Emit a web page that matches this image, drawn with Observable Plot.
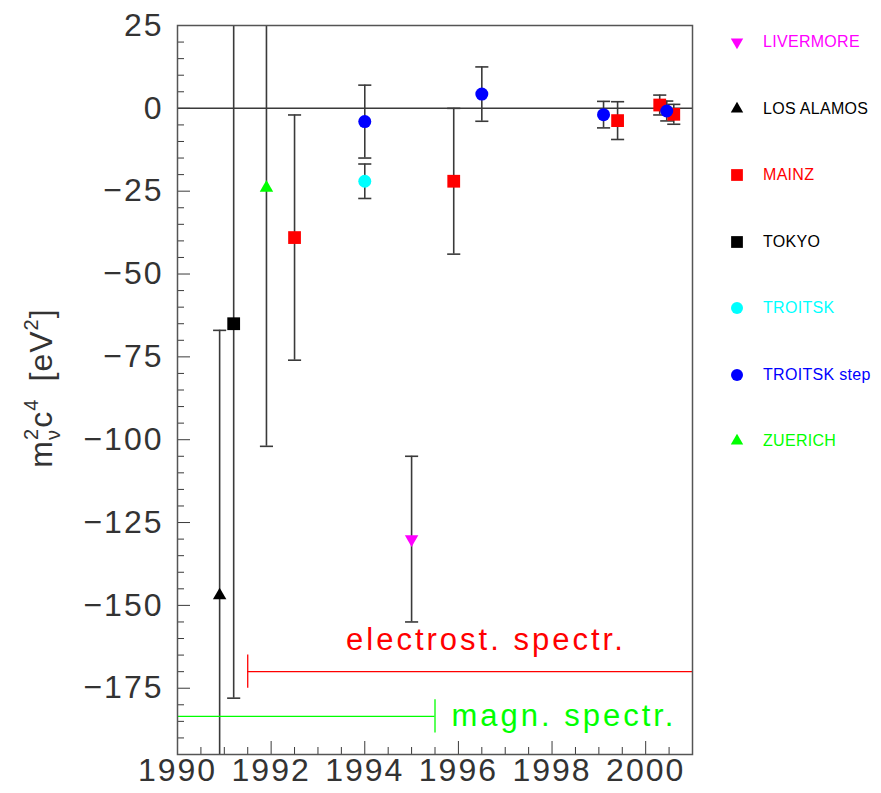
<!DOCTYPE html>
<html><head><meta charset="utf-8">
<script src="https://cdn.jsdelivr.net/npm/d3@7"></script>
<script src="https://cdn.jsdelivr.net/npm/@observablehq/plot@0.6"></script>
<style>
body{margin:0;background:#fff;overflow:hidden;}
#wrap{position:relative;width:881px;height:793px;overflow:hidden;}
.item{position:absolute;left:727px;height:20px;display:flex;align-items:center;font-family:"Liberation Sans",Arial,sans-serif;font-size:16px;letter-spacing:0.3px;white-space:nowrap;}
.item svg{margin-right:16px;}
</style></head><body><div id="wrap"></div>
<script>
// legend series
const experiments = ["LIVERMORE","LOS ALAMOS","MAINZ","TOKYO","TROITSK","TROITSK step","ZUERICH"];
const expColors   = ["#ff00ff","#000000","#ff0000","#000000","#00ffff","#0000ff","#00ff00"];
const expSymbols  = ["triangle","triangle","square","square","circle","circle","triangle"];
const expRotate   = [180,0,0,0,0,0,0];
const expRadius   = [5,5,7.2,7.2,6.5,6.5,5];

// measurements
const pointExperiment = ["LOS ALAMOS","TOKYO","ZUERICH","MAINZ","TROITSK","TROITSK step","LIVERMORE","MAINZ","TROITSK step","TROITSK step","MAINZ","MAINZ","MAINZ","TROITSK step"];
const pointYear  = [1990.9,1991.2,1991.9,1992.5,1994.0,1994.0,1995.0,1995.9,1996.5,1999.1,1999.4,2000.3,2000.6,2000.45];
const pointMass2 = [-147,-65,-24,-39,-22,-4,-130,-22,4.3,-1.9,-3.7,1.0,-1.8,-0.8];
const pointError = [80,113,78,37,5.2,11,25,22,8.2,4,5.7,3,3,3];

// spectrometer type annotations
const methodLabels    = ["electrost. spectr.","magn. spectr."];
const methodColors    = ["#ff0000","#00ff00"];
const methodStart     = [1991.5,1990];
const methodEnd       = [2001,1995.5];
const methodLevel     = [-170,-183.5];
const methodTickYear  = [1991.5,1995.5];
const methodTextYear  = [1993.6,1995.85];
const methodTextLevel = [-160.5,-183.5];

// axes
const xMajor = [1990,1992,1994,1996,1998,2000];
const xMinor = [1990.5,1991,1991.5,1992.5,1993,1993.5,1994.5,1995,1995.5,1996.5,1997,1997.5,1998.5,1999,1999.5,2000.5];
const yMajor = [-175,-150,-125,-100,-75,-50,-25,0,25];
const yMinor = [-190,-185,-180,-170,-165,-160,-155,-145,-140,-135,-130,-120,-115,-110,-105,-95,-90,-85,-80,-70,-65,-60,-55,-45,-40,-35,-30,-20,-15,-10,-5,5,10,15,20];
const yDomain = [-195,25];
const xDomain = [1990,2001];

const points = pointYear.map((x,i)=>{
  const k = experiments.indexOf(pointExperiment[i]);
  return {x, y: pointMass2[i], lo: pointMass2[i]-pointError[i], hi: pointMass2[i]+pointError[i],
    color: expColors[k], symbol: expSymbols[k], rotate: expRotate[k], r: expRadius[k]};
});
const caps = [];
points.forEach(p=>{
  if (p.hi <= yDomain[1]) caps.push({x: p.x, y: p.hi});
  if (p.lo >= yDomain[0]) caps.push({x: p.x, y: p.lo});
});
const methods = methodLabels.map((t,i)=>({text:t,color:methodColors[i],x1:methodStart[i],x2:methodEnd[i],y:methodLevel[i],tx:methodTickYear[i],lx:methodTextYear[i],ly:methodTextLevel[i]}));

const ink = "#3a3a3a";
const chart = Plot.plot({
  width: 881, height: 793,
  marginLeft: 177, marginRight: 189, marginTop: 25, marginBottom: 39,
  x: {domain: xDomain},
  y: {domain: yDomain},
  r: {type: "identity"},
  color: {type: "identity"},
  style: {fontFamily: "'Liberation Sans', Arial, sans-serif", background: "white"},
  marks: [
    Plot.axisX({ticks: xMinor, tickSize: -7, text: null, label: null, stroke: ink}),
    Plot.axisX({ticks: xMajor, tickSize: -13, text: null, label: null, stroke: ink}),
    Plot.axisX({ticks: xMajor, tickSize: 0, tickPadding: 4, tickFormat: d=>String(d), fontSize: 32, fill: "#333", label: null}),
    Plot.axisY({ticks: yMinor, tickSize: -7, text: null, label: null, stroke: ink}),
    Plot.axisY({ticks: yMajor, tickSize: -13, text: null, label: null, stroke: ink}),
    Plot.axisY({ticks: yMajor, tickSize: 0, tickPadding: 14, fontSize: 32, fill: "#333", label: null}),
    Plot.ruleY([0], {stroke: ink, strokeWidth: 1.5}),
    Plot.ruleX(points, {x: "x", y1: "lo", y2: "hi", stroke: ink, strokeWidth: 1.6, clip: true}),
    Plot.link(caps, {x1: d=>d.x-0.14, x2: d=>d.x+0.14, y1: "y", y2: "y", stroke: ink, strokeWidth: 1.6}),
    Plot.ruleY(methods, {x1: "x1", x2: "x2", y: "y", stroke: "color", strokeWidth: 1.3}),
    Plot.ruleX(methods, {x: "tx", y1: d=>d.y-5, y2: d=>d.y+5, stroke: "color", strokeWidth: 1.3}),
    Plot.text(methods, {x: "lx", y: "ly", text: "text", fill: "color", textAnchor: "start", fontSize: 31, style: "letter-spacing:3px"}),
    Plot.dot(points, {x: "x", y: "y", symbol: "symbol", fill: "color", r: "r", rotate: "rotate", stroke: "none"}),
    Plot.frame({stroke: "#555", strokeWidth: 1.5})
  ]
});
// letter spacing for method texts
d3.select(chart).selectAll("text").filter(function(){return methodLabels.includes(this.textContent);}).style("letter-spacing","3px");
d3.select(chart).selectAll("[aria-label='x-axis tick label'] text, [aria-label='y-axis tick label'] text").style("letter-spacing","2px");

// y-axis title with sub/superscripts
const title = d3.select(chart).append("text")
  .attr("transform","translate(52,388) rotate(-90)")
  .attr("text-anchor","middle")
  .attr("font-size",32).attr("fill","#333")
  .style("letter-spacing","1px");
title.append("tspan").text("m");
title.append("tspan").attr("font-size",20).attr("dy",8).text("ν");
title.append("tspan").attr("font-size",20).attr("dx",-11).attr("dy",-22).text("2");
title.append("tspan").attr("dy",14).text("c");
title.append("tspan").attr("font-size",20).attr("dy",-14).text("4");
title.append("tspan").attr("dy",14).text("\u2009 [eV");
title.append("tspan").attr("font-size",20).attr("dy",-14).text("2");
title.append("tspan").attr("dy",14).text("]");

const wrap = document.getElementById("wrap");
wrap.appendChild(chart);

// legend
const symMap = {triangle: d3.symbolTriangle, square: d3.symbolSquare, circle: d3.symbolCircle};
experiments.forEach((name,i)=>{
  const item = document.createElement("div");
  item.className = "item";
  item.style.top = (32 + i*66.5) + "px";
  const s = d3.create("svg").attr("width",20).attr("height",20);
  s.append("path").attr("d", d3.symbol(symMap[expSymbols[i]], Math.PI*expRadius[i]*expRadius[i]*0.85)())
    .attr("transform", `translate(10,10) rotate(${expRotate[i]})`).attr("fill", expColors[i]);
  item.appendChild(s.node());
  const lab = document.createElement("span");
  lab.textContent = name;
  lab.style.color = expColors[i];
  item.appendChild(lab);
  wrap.appendChild(item);
});
</script></body></html>
